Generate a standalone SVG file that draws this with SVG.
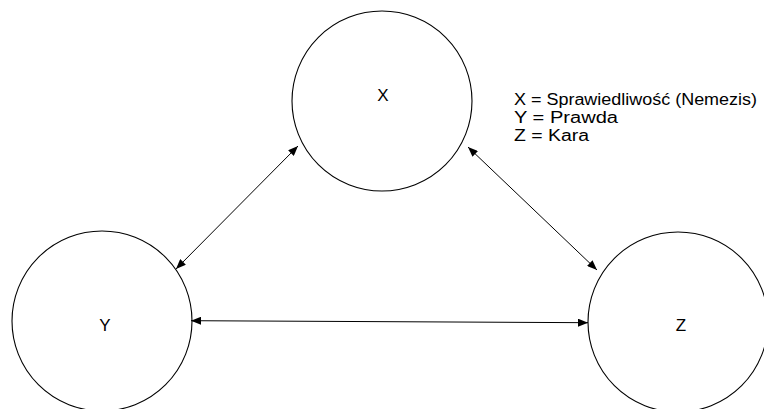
<svg xmlns="http://www.w3.org/2000/svg" width="764" height="409" viewBox="0 0 764 409">
<style>
.node{fill:#fff;stroke:#000;stroke-width:1.1}
.lbl{font-family:"Liberation Sans",Arial,sans-serif;font-size:17px;fill:#000;text-anchor:middle}
.leg{font-family:"Liberation Sans",Arial,sans-serif;font-size:16px;fill:#000}
.conn{stroke:#000;stroke-width:1;fill:none;marker-start:url(#ah);marker-end:url(#ah)}
</style>
<defs>
<marker id="ah" viewBox="0 0 10 8" refX="10" refY="4" markerWidth="10" markerHeight="8" markerUnits="userSpaceOnUse" orient="auto-start-reverse">
<path d="M0,0 L10,4 L0,8 Z" fill="#000"/>
</marker>
</defs>
<rect width="764" height="409" fill="#fff"/>
<g id="node-X"><circle class="node" cx="382" cy="101" r="90"/><text class="lbl" x="383" y="101">X</text></g>
<g id="node-Y"><circle class="node" cx="102" cy="321" r="90"/><text class="lbl" x="105" y="331">Y</text></g>
<g id="node-Z"><circle class="node" cx="678" cy="322" r="90"/><text class="lbl" x="681" y="331">Z</text></g>
<g id="connectors">
<line class="conn" x1="176" y1="269" x2="298" y2="146"/>
<line class="conn" x1="468" y1="147" x2="597" y2="270"/>
<line class="conn" x1="191" y1="320.7" x2="588" y2="322.7"/>
</g>
<g id="legend">
<text class="leg" x="514" y="105" textLength="243" lengthAdjust="spacingAndGlyphs">X = Sprawiedliwość (Nemezis)</text>
<text class="leg" x="514" y="123" textLength="104" lengthAdjust="spacingAndGlyphs">Y = Prawda</text>
<text class="leg" x="514" y="141" textLength="75" lengthAdjust="spacingAndGlyphs">Z = Kara</text>
</g>
</svg>
